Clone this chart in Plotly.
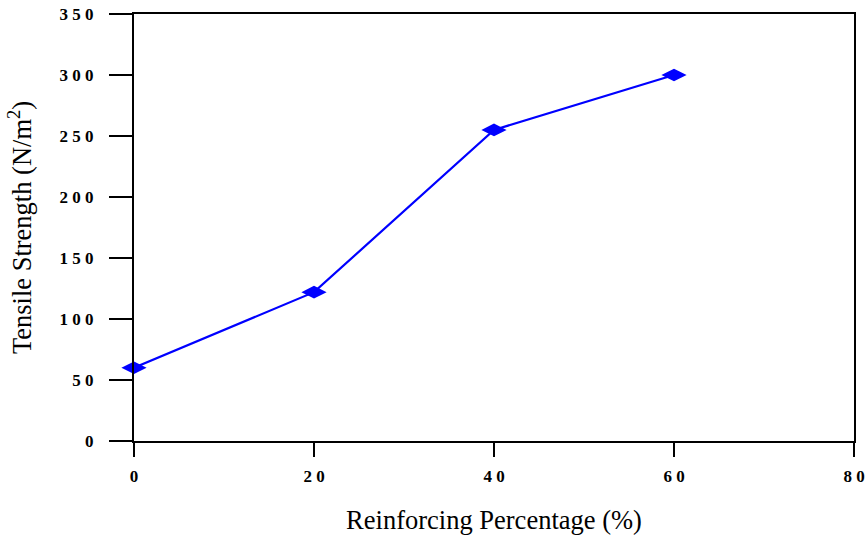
import plotly.graph_objects as go

reinforcing_pct = [0, 20, 40, 60]
tensile_strength = [60, 122, 255, 300]
x_tick_vals = [0, 20, 40, 60, 80]
x_tick_text = ["0", "2 0", "4 0", "6 0", "8 0"]
y_tick_vals = [0, 50, 100, 150, 200, 250, 300, 350]
y_tick_text = ["0", "5 0", "1 0 0", "1 5 0", "2 0 0", "2 5 0", "3 0 0", "3 5 0"]

fig = go.Figure()
fig.add_trace(go.Scatter(
    x=reinforcing_pct, y=tensile_strength, mode="lines+markers",
    line=dict(color="#0000FF", width=2.2),
    marker=dict(symbol="diamond-wide", size=18, color="#0000FF"),
    cliponaxis=False,
    showlegend=False,
))

tick_font = dict(family="Liberation Serif, Times New Roman, serif", size=17, color="black", weight="bold")
title_font = dict(family="Liberation Serif, Times New Roman, serif", size=26.5, color="black")

fig.update_layout(
    width=867, height=540,
    margin=dict(l=134, r=13, t=14, b=99),
    paper_bgcolor="white", plot_bgcolor="white",
    xaxis=dict(
        range=[0, 80], tickvals=x_tick_vals, ticktext=x_tick_text,
        showgrid=False, zeroline=False, automargin=False,
        showline=True, linecolor="black", linewidth=2, mirror=True,
        ticks="outside", ticklen=14, tickwidth=2, tickcolor="black",
        tickfont=tick_font, ticklabelstandoff=5,
        title=dict(text="Reinforcing Percentage (%)", font=title_font, standoff=25),
    ),
    yaxis=dict(
        range=[0, 350], tickvals=y_tick_vals, ticktext=y_tick_text,
        showgrid=False, zeroline=False, automargin=False,
        showline=True, linecolor="black", linewidth=2, mirror=True,
        ticks="outside", ticklen=23, tickwidth=2, tickcolor="black",
        tickfont=tick_font, ticklabelstandoff=12,
        title=dict(text="Tensile Strength (N/m<sup>2</sup>)", font=title_font, standoff=20),
    ),
)

fig.write_html(
    "out.html",
    config={"displayModeBar": False},
    post_script="document.body.style.margin='0';document.body.style.overflow='hidden';",
)
